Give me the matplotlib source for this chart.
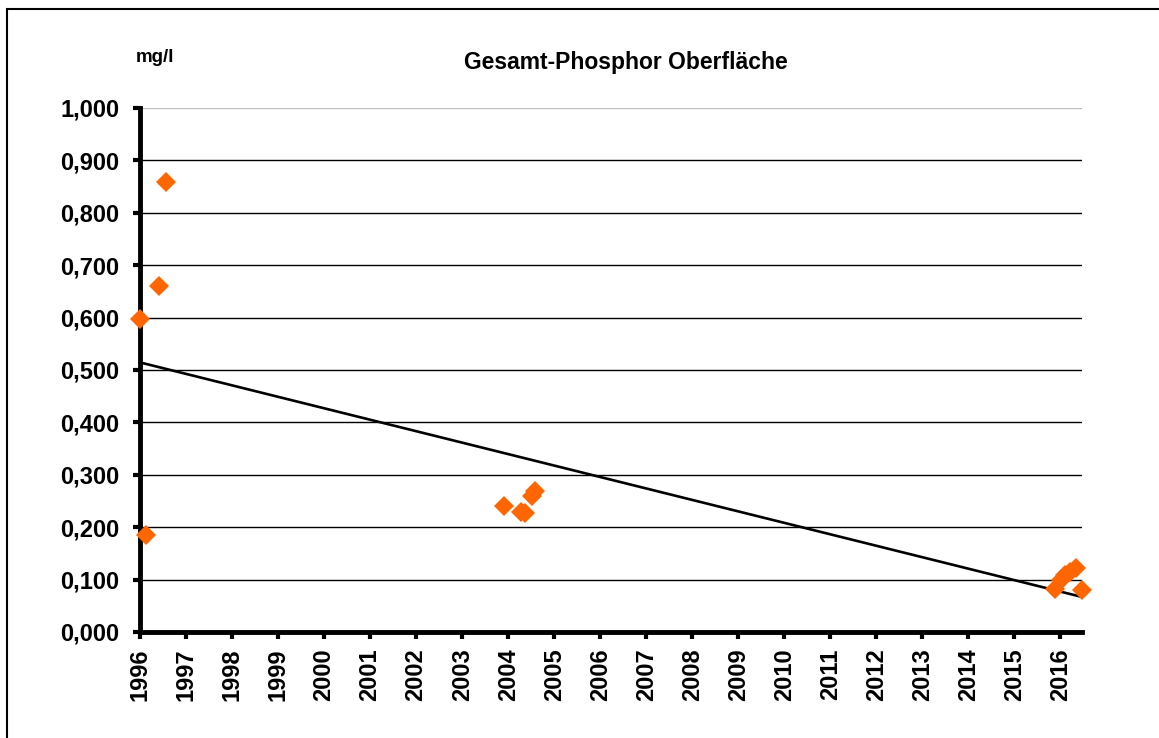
import numpy as np
import matplotlib
matplotlib.use("Agg")
import matplotlib.pyplot as plt
from matplotlib.patches import Rectangle
from matplotlib.ticker import FuncFormatter

plt.rcParams['font.family'] = ['Liberation Sans', 'DejaVu Sans']

# measurement dates (decimal years) and total phosphorus, mg/l
years = [1996.00, 1996.13, 1996.41, 1996.56,
         2003.92, 2004.27, 2004.36, 2004.52, 2004.58,
         2015.89, 2016.02, 2016.11, 2016.20, 2016.33, 2016.46]
phosphor = [0.597, 0.185, 0.660, 0.859,
            0.240, 0.229, 0.228, 0.260, 0.270,
            0.083, 0.100, 0.108, 0.115, 0.122, 0.080]
year_ticks = list(range(1996, 2017))
y_ticks = [0.0, 0.1, 0.2, 0.3, 0.4, 0.5, 0.6, 0.7, 0.8, 0.9, 1.0]

title = "Gesamt-Phosphor Oberfläche"
unit = "mg/l"

fig = plt.figure(figsize=(11.59, 7.38), dpi=100)
ax = fig.add_axes([140/1159, 1-632/738, (1082-140)/1159, (632-108)/738])

# outer frame of the chart object (cut off at right and bottom)
fig.patches.append(Rectangle((7/1159, -0.1), 1.2, 1.1 - 9/738, transform=fig.transFigure,
                             fill=False, edgecolor='black', linewidth=1.5))

# gridlines
for v in y_ticks[1:]:
    ax.axhline(v, color='#c0c0c0' if v == 1.0 else 'black', linewidth=1.0, zorder=1)

# linear trend (Excel-like)
coef = np.polyfit(years, phosphor, 1)
xs = np.array([years[0], years[-1]])
ax.plot(xs, np.polyval(coef, xs), color='black', linewidth=1.9, zorder=2)

ax.plot(years, phosphor, linestyle='none', marker='D', markersize=10,
        color='#ff6600', markeredgewidth=0, zorder=5, clip_on=False)

ax.set_xlim(1996, 2016.47)
ax.set_ylim(0, 1.0)
ax.set_xticks(year_ticks)
ax.set_xticklabels([str(y) for y in year_ticks], rotation=90)
ax.set_yticks(y_ticks)
ax.yaxis.set_major_formatter(FuncFormatter(lambda v, p: f"{v:.3f}".replace('.', ',')))

for s in ['top', 'right']:
    ax.spines[s].set_visible(False)
for s in ['left', 'bottom']:
    ax.spines[s].set_linewidth(3.5)
    ax.spines[s].set_zorder(4)
ax.tick_params(axis='both', direction='out', length=5, width=3, labelsize=17)
ax.tick_params(axis='y', pad=10)
ax.tick_params(axis='x', pad=7)
for lab in ax.get_xticklabels() + ax.get_yticklabels():
    lab.set_fontweight('bold')

fig.text(626/1159, 1-62/738, title, ha='center', va='center', fontsize=16.5, fontweight='bold')
fig.text(155/1159, 1-57/738, unit, ha='center', va='center', fontsize=13.5, fontweight='bold')

fig.savefig("out.png", dpi=100)
